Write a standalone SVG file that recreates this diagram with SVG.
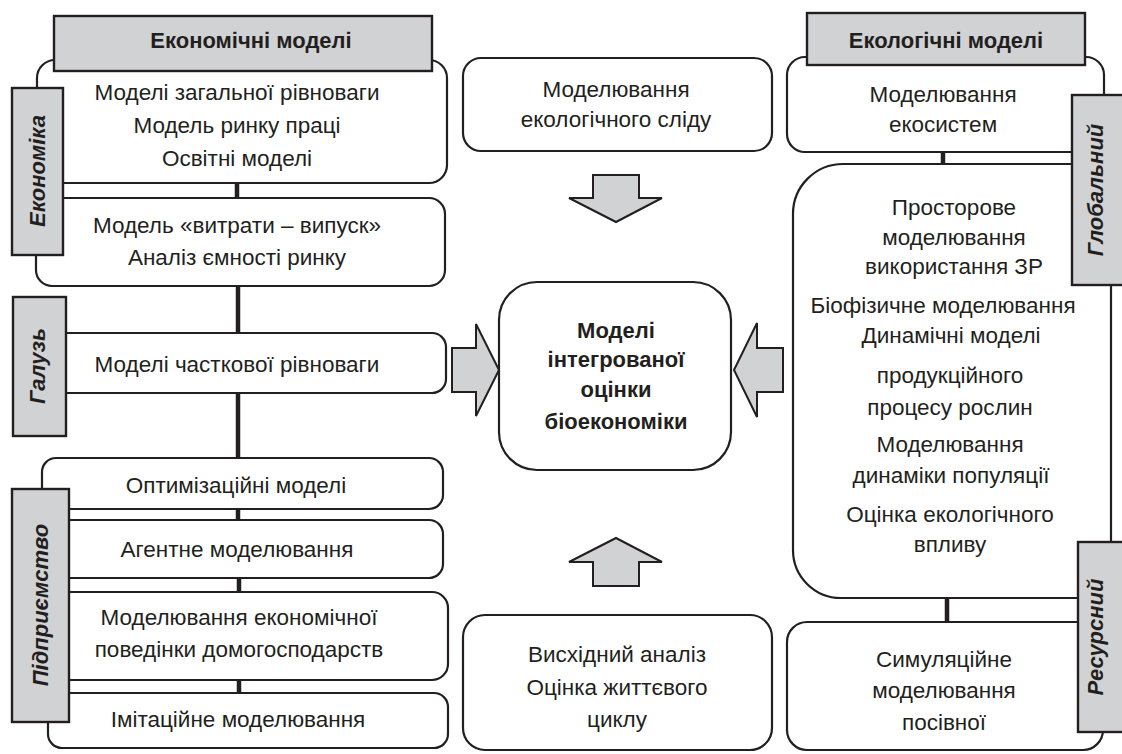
<svg xmlns="http://www.w3.org/2000/svg" width="1122" height="754" viewBox="0 0 1122 754">
<style>
.box{fill:#fff;stroke:#231f20;stroke-width:2.2}
.tag{fill:#d1d2d4;stroke:#231f20;stroke-width:2.4}
.arr{fill:#d1d2d4;stroke:#231f20;stroke-width:2;stroke-linejoin:miter}
.con{stroke:#231f20;stroke-width:4.5;fill:none}
text{font-family:"Liberation Sans",Arial,sans-serif;font-size:22.5px;fill:#231f20;text-anchor:middle}
.b{font-weight:bold;font-size:22px}
.i{font-style:italic;font-weight:bold;font-size:22px}
</style>
<g id="connectors">
<line class="con" x1="237" y1="183" x2="237" y2="198"/>
<line class="con" x1="238" y1="286" x2="238" y2="333"/>
<line class="con" x1="238" y1="393" x2="238" y2="458"/>
<line class="con" x1="238" y1="509" x2="238" y2="520"/>
<line class="con" x1="239" y1="578" x2="239" y2="592"/>
<line class="con" x1="239" y1="680" x2="239" y2="693"/>
<line class="con" x1="943" y1="152" x2="943" y2="164"/>
<line class="con" x1="947" y1="598" x2="947" y2="622"/>
<polygon class="arr" points="593,175 639,175 639,198 662,198 616,222 569,198 593,198"/>
<polygon class="arr" points="616,538 662,562 639,562 639,586 593,586 593,562 569,562"/>
<polygon class="arr" points="452,348 476,348 476,324 499,370 476,416 476,392 452,392"/>
<polygon class="arr" points="734,370 757,323 757,348 783,348 783,392 757,392 757,417"/>
</g>
<g id="econ-general">
<rect class="box" x="37" y="60" width="410" height="123" rx="18"/>
<text x="237" y="100">Моделі загальної рівноваги</text>
<text x="237" y="133">Модель ринку праці</text>
<text x="237" y="166">Освітні моделі</text>
</g>
<g id="econ-header">
<rect class="tag" x="54" y="16" width="378" height="55"/>
<text class="b" x="251" y="48">Економічні моделі</text>
</g>
<g id="econ-io">
<rect class="box" x="36" y="198" width="409" height="88" rx="16"/>
<text x="237" y="233">Модель «витрати – випуск»</text>
<text x="237" y="265">Аналіз ємності ринку</text>
</g>
<g id="tag-economy">
<rect class="tag" x="12" y="88" width="51" height="167"/>
<text class="i" transform="translate(45,171) rotate(-90)">Економіка</text>
</g>
<g id="partial-eq">
<rect class="box" x="40" y="333" width="406" height="60" rx="14"/>
<text x="237" y="372">Моделі часткової рівноваги</text>
</g>
<g id="tag-industry">
<rect class="tag" x="13" y="297" width="53" height="139"/>
<text class="i" transform="translate(45,366) rotate(-90)">Галузь</text>
</g>
<g id="optim">
<rect class="box" x="42" y="458" width="401" height="51" rx="14"/>
<text x="236" y="493">Оптимізаційні моделі</text>
</g>
<g id="agent">
<rect class="box" x="44" y="520" width="399" height="58" rx="14"/>
<text x="237" y="557">Агентне моделювання</text>
</g>
<g id="household">
<rect class="box" x="46" y="592" width="402" height="88" rx="16"/>
<text x="239" y="625">Моделювання економічної</text>
<text x="239" y="657">поведінки домогосподарств</text>
</g>
<g id="imitation">
<rect class="box" x="48" y="693" width="400" height="55" rx="14"/>
<text x="238" y="727">Імітаційне моделювання</text>
</g>
<g id="tag-enterprise">
<rect class="tag" x="12" y="489" width="57" height="233"/>
<text class="i" transform="translate(48,605) rotate(-90)">Підприємство</text>
</g>
<g id="eco-footprint">
<rect class="box" x="463" y="58" width="309" height="93" rx="18"/>
<text x="616" y="97">Моделювання</text>
<text x="616" y="127">екологічного сліду</text>
</g>
<g id="center">
<rect class="box" x="499" y="282" width="232" height="188" rx="38"/>
<text class="b" x="616" y="338">Моделі</text>
<text class="b" x="616" y="367">інтегрованої</text>
<text class="b" x="616" y="397">оцінки</text>
<text class="b" x="616" y="429">біоекономіки</text>
</g>
<g id="lca">
<rect class="box" x="463" y="615" width="309" height="135" rx="22"/>
<text x="617" y="662">Висхідний аналіз</text>
<text x="617" y="695">Оцінка життєвого</text>
<text x="617" y="727">циклу</text>
</g>
<g id="ecosystems">
<rect class="box" x="787" y="57" width="317" height="95" rx="18"/>
<text x="943" y="102">Моделювання</text>
<text x="943" y="132">екосистем</text>
</g>
<g id="eco-header">
<rect class="tag" x="807" y="13" width="278" height="52"/>
<text class="b" x="946" y="48">Екологічні моделі</text>
</g>
<g id="eco-models">
<path class="box" d="M843,164 H1093 A18,18 0 0 1 1111,182 V586 A12,12 0 0 1 1099,598 H841 A48,48 0 0 1 793,550 V214 A50,50 0 0 1 843,164 Z"/>
<text x="954" y="215">Просторове</text>
<text x="954" y="245">моделювання</text>
<text x="954" y="274">використання ЗР</text>
<text x="943" y="313">Біофізичне моделювання</text>
<text x="951" y="343">Динамічні моделі</text>
<text x="950" y="383">продукційного</text>
<text x="950" y="415">процесу рослин</text>
<text x="950" y="452">Моделювання</text>
<text x="951" y="483">динаміки популяції</text>
<text x="950" y="522">Оцінка екологічного</text>
<text x="950" y="552">впливу</text>
</g>
<g id="crop-sim">
<rect class="box" x="787" y="622" width="316" height="128" rx="20"/>
<text x="944" y="667">Симуляційне</text>
<text x="944" y="698">моделювання</text>
<text x="944" y="730">посівної</text>
</g>
<g id="tag-global">
<rect class="tag" x="1072" y="95" width="52" height="190"/>
<text class="i" transform="translate(1103,190) rotate(-90)">Глобальний</text>
</g>
<g id="tag-resource">
<rect class="tag" x="1078" y="542" width="46" height="190"/>
<text class="i" transform="translate(1103,637) rotate(-90)">Ресурсний</text>
</g>
</svg>
